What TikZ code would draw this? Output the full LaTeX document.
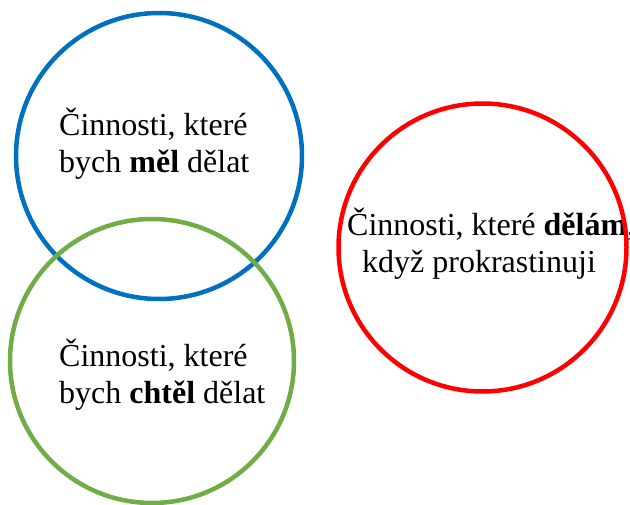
\documentclass[tikz,border=0pt]{standalone}
\usepackage{fontspec}
\setmainfont{Liberation Serif}
\definecolor{cblue}{HTML}{0070C0}
\definecolor{cgreen}{HTML}{70AD47}
\definecolor{cred}{HTML}{FF0000}
\begin{document}
\begin{tikzpicture}[x=1pt,y=-1pt,
  ring/.style={circle,draw,line width=4.5pt,inner sep=0pt},
  label/.style={font=\fontsize{32}{37}\selectfont,inner sep=0pt}]
\useasboundingbox (0,0) rectangle (630,505);
\node[label,anchor=base west,align=left] (tb) at (59,173) {Činnosti, které\\bych \textbf{měl} dělat};
\node[label,anchor=base west,align=left] (tg) at (59,403) {Činnosti, které\\bych \textbf{chtěl} dělat};
\node[label,anchor=base west,align=left] (tr) at (347,273) {Činnosti, které \textbf{dělám},\\\hspace*{15pt}když prokrastinuji};
\node[ring,draw=cblue,minimum size=286pt] (blue) at (159,156) {};
\node[ring,draw=cgreen,minimum size=284pt] (green) at (152,361) {};
\node[ring,draw=cred,minimum size=288pt] (red) at (482.5,247.5) {};
\end{tikzpicture}
\end{document}
